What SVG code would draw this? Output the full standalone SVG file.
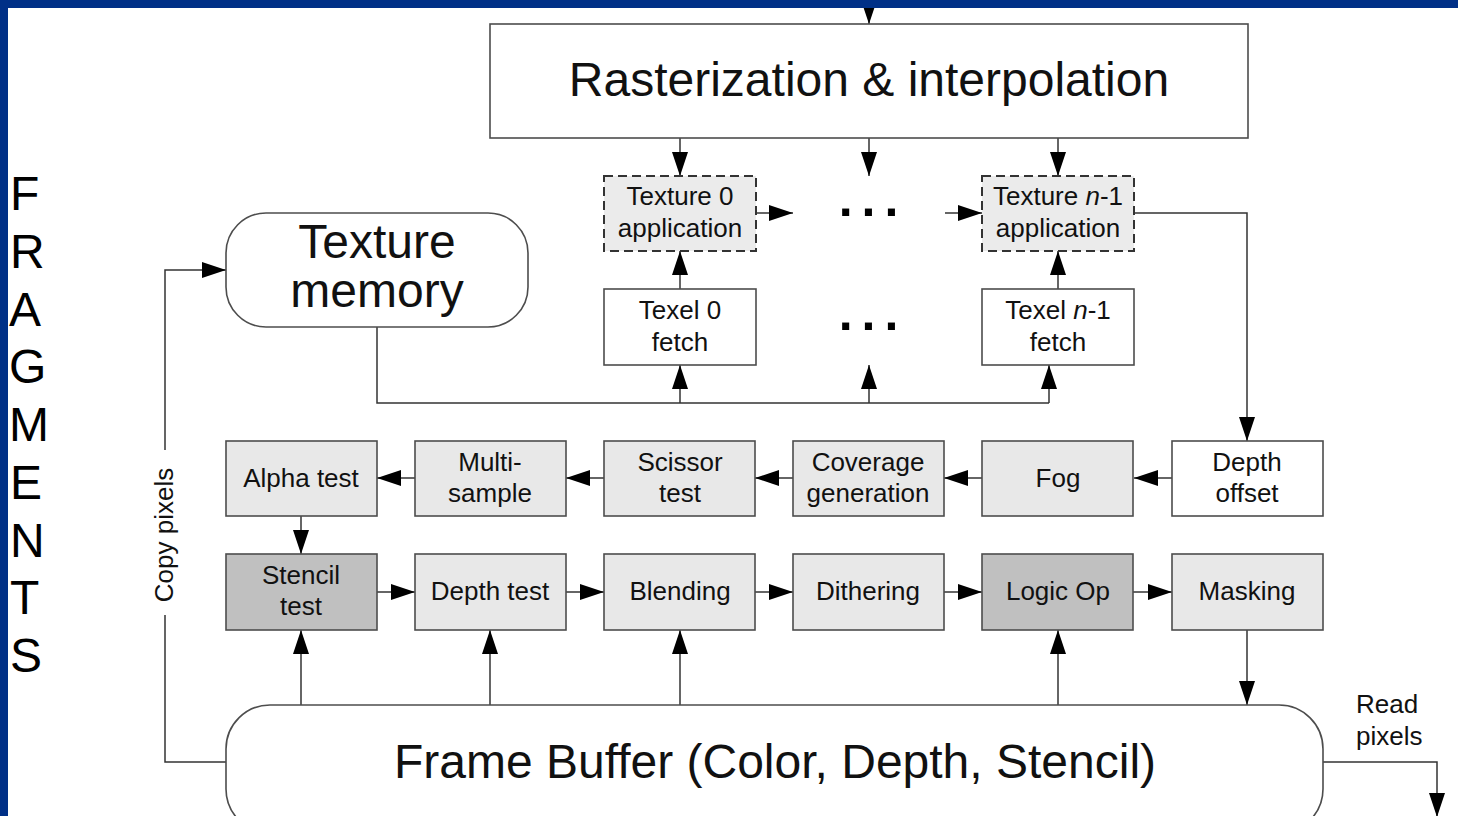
<svg xmlns="http://www.w3.org/2000/svg" width="1458" height="816" viewBox="0 0 1458 816">
  <defs>
    <marker id="arr" viewBox="0 0 24 16" refX="24" refY="8" markerWidth="24" markerHeight="16" markerUnits="userSpaceOnUse" orient="auto">
      <path d="M0,0 L24,8 L0,16 Z" fill="#000"/>
    </marker>
    <style>
      .box { stroke: #4d4d4d; stroke-width: 1.6; }
      .white { fill: #ffffff; }
      .light { fill: #e8e8e8; }
      .dark { fill: #c0c0c0; }
      .dash { fill: #ebebeb; stroke: #333; stroke-width: 2; stroke-dasharray: 9 5; }
      .line { fill: none; stroke: #333; stroke-width: 1.5; }
      .arrow { fill: none; stroke: #333; stroke-width: 1.5; marker-end: url(#arr); }
      text { font-family: "Liberation Sans", Arial, sans-serif; fill: #111; }
      .lbl { font-size: 26px; text-anchor: middle; }
      .big { font-size: 48px; text-anchor: middle; }
      .side { font-size: 48px; fill: #000; }
      .dots { font-size: 50px; font-weight: bold; text-anchor: middle; letter-spacing: 9px; fill: #000; }
    </style>
  </defs>

  <rect x="0" y="0" width="1458" height="816" fill="#ffffff"/>

  <!-- connectors -->
  <g id="connectors">
    <line class="arrow" x1="869" y1="0" x2="869" y2="24"/>
    <line class="arrow" x1="680" y1="138" x2="680" y2="176"/>
    <line class="arrow" x1="869" y1="138" x2="869" y2="176"/>
    <line class="arrow" x1="1058" y1="138" x2="1058" y2="176"/>
    <line class="arrow" x1="756" y1="213" x2="793" y2="213"/>
    <line class="arrow" x1="945" y1="213" x2="982" y2="213"/>
    <polyline class="arrow" points="1134,213 1247,213 1247,441"/>
    <line class="arrow" x1="680" y1="289" x2="680" y2="251"/>
    <line class="arrow" x1="1058" y1="289" x2="1058" y2="251"/>
    <polyline class="line" points="377,327 377,403 1049,403"/>
    <line class="arrow" x1="680" y1="403" x2="680" y2="365"/>
    <line class="arrow" x1="869" y1="403" x2="869" y2="365"/>
    <line class="arrow" x1="1049" y1="403" x2="1049" y2="365"/>
    <!-- row 1, right to left -->
    <line class="arrow" x1="1172" y1="478" x2="1134" y2="478"/>
    <line class="arrow" x1="982" y1="478" x2="944" y2="478"/>
    <line class="arrow" x1="793" y1="478" x2="755" y2="478"/>
    <line class="arrow" x1="604" y1="478" x2="566" y2="478"/>
    <line class="arrow" x1="415" y1="478" x2="377" y2="478"/>
    <line class="arrow" x1="301" y1="516" x2="301" y2="554"/>
    <!-- row 2, left to right -->
    <line class="arrow" x1="377" y1="592" x2="415" y2="592"/>
    <line class="arrow" x1="566" y1="592" x2="604" y2="592"/>
    <line class="arrow" x1="755" y1="592" x2="793" y2="592"/>
    <line class="arrow" x1="944" y1="592" x2="982" y2="592"/>
    <line class="arrow" x1="1133" y1="592" x2="1172" y2="592"/>
    <line class="arrow" x1="1247" y1="630" x2="1247" y2="705"/>
    <!-- frame buffer reads -->
    <line class="arrow" x1="301" y1="705" x2="301" y2="630"/>
    <line class="arrow" x1="490" y1="705" x2="490" y2="630"/>
    <line class="arrow" x1="680" y1="705" x2="680" y2="630"/>
    <line class="arrow" x1="1058" y1="705" x2="1058" y2="630"/>
    <!-- copy pixels -->
    <polyline class="line" points="226,762 165,762 165,615"/>
    <polyline class="arrow" points="165,450 165,270 226,270"/>
    <text x="0" y="0" font-size="26" text-anchor="middle" transform="translate(173,535) rotate(-90)">Copy pixels</text>
    <!-- read pixels -->
    <polyline class="arrow" points="1323,762 1437,762 1437,817"/>
    <text x="1356" y="713" font-size="26">Read</text>
    <text x="1356" y="745" font-size="26">pixels</text>
  </g>

  <g id="rasterization">
    <rect class="box white" x="490" y="24" width="758" height="114"/>
    <text class="big" x="869" y="96">Rasterization &amp; interpolation</text>
  </g>

  <g id="texture-memory">
    <rect class="box white" x="226" y="213" width="302" height="114" rx="40" ry="40"/>
    <text class="big" x="377" y="258">Texture</text>
    <text class="big" x="377" y="307">memory</text>
  </g>

  <g id="texture0-app">
    <rect class="dash" x="604" y="176" width="152" height="75"/>
    <text class="lbl" x="680" y="205">Texture 0</text>
    <text class="lbl" x="680" y="237">application</text>
  </g>
  <g id="texturen-app">
    <rect class="dash" x="982" y="176" width="152" height="75"/>
    <text class="lbl" x="1058" y="205">Texture <tspan font-style="italic">n</tspan>-1</text>
    <text class="lbl" x="1058" y="237">application</text>
  </g>
  <g id="dots-app"><text class="dots" x="873" y="216">...</text></g>

  <g id="texel0-fetch">
    <rect class="box white" x="604" y="289" width="152" height="76"/>
    <text class="lbl" x="680" y="319">Texel 0</text>
    <text class="lbl" x="680" y="351">fetch</text>
  </g>
  <g id="texeln-fetch">
    <rect class="box white" x="982" y="289" width="152" height="76"/>
    <text class="lbl" x="1058" y="319">Texel <tspan font-style="italic">n</tspan>-1</text>
    <text class="lbl" x="1058" y="351">fetch</text>
  </g>
  <g id="dots-fetch"><text class="dots" x="873" y="330">...</text></g>

  <!-- per-fragment operations, first row -->
  <g id="alpha-test">
    <rect class="box light" x="226" y="441" width="151" height="75"/>
    <text class="lbl" x="301" y="487">Alpha test</text>
  </g>
  <g id="multisample">
    <rect class="box light" x="415" y="441" width="151" height="75"/>
    <text class="lbl" x="490" y="471">Multi-</text>
    <text class="lbl" x="490" y="502">sample</text>
  </g>
  <g id="scissor-test">
    <rect class="box light" x="604" y="441" width="151" height="75"/>
    <text class="lbl" x="680" y="471">Scissor</text>
    <text class="lbl" x="680" y="502">test</text>
  </g>
  <g id="coverage">
    <rect class="box light" x="793" y="441" width="151" height="75"/>
    <text class="lbl" x="868" y="471">Coverage</text>
    <text class="lbl" x="868" y="502">generation</text>
  </g>
  <g id="fog">
    <rect class="box light" x="982" y="441" width="151" height="75"/>
    <text class="lbl" x="1058" y="487">Fog</text>
  </g>
  <g id="depth-offset">
    <rect class="box white" x="1172" y="441" width="151" height="75"/>
    <text class="lbl" x="1247" y="471">Depth</text>
    <text class="lbl" x="1247" y="502">offset</text>
  </g>

  <!-- second row -->
  <g id="stencil-test">
    <rect class="box dark" x="226" y="554" width="151" height="76"/>
    <text class="lbl" x="301" y="584">Stencil</text>
    <text class="lbl" x="301" y="615">test</text>
  </g>
  <g id="depth-test">
    <rect class="box light" x="415" y="554" width="151" height="76"/>
    <text class="lbl" x="490" y="600">Depth test</text>
  </g>
  <g id="blending">
    <rect class="box light" x="604" y="554" width="151" height="76"/>
    <text class="lbl" x="680" y="600">Blending</text>
  </g>
  <g id="dithering">
    <rect class="box light" x="793" y="554" width="151" height="76"/>
    <text class="lbl" x="868" y="600">Dithering</text>
  </g>
  <g id="logic-op">
    <rect class="box dark" x="982" y="554" width="151" height="76"/>
    <text class="lbl" x="1058" y="600">Logic Op</text>
  </g>
  <g id="masking">
    <rect class="box light" x="1172" y="554" width="151" height="76"/>
    <text class="lbl" x="1247" y="600">Masking</text>
  </g>

  <g id="frame-buffer">
    <rect class="box white" x="226" y="705" width="1097" height="128" rx="44" ry="44"/>
    <text class="big" x="775" y="778">Frame Buffer (Color, Depth, Stencil)</text>
  </g>

  <!-- vertical caption -->
  <g id="fragments-caption">
    <text class="side" x="10" y="210">F</text>
    <text class="side" x="10" y="268">R</text>
    <text class="side" x="9" y="326">A</text>
    <text class="side" x="9" y="383">G</text>
    <text class="side" x="9" y="441">M</text>
    <text class="side" x="10" y="499">E</text>
    <text class="side" x="10" y="557">N</text>
    <text class="side" x="10" y="614">T</text>
    <text class="side" x="10" y="672">S</text>
  </g>

  <!-- slide frame -->
  <rect x="0" y="0" width="1458" height="8" fill="#003087"/>
  <rect x="0" y="0" width="8" height="816" fill="#003087"/>
</svg>
